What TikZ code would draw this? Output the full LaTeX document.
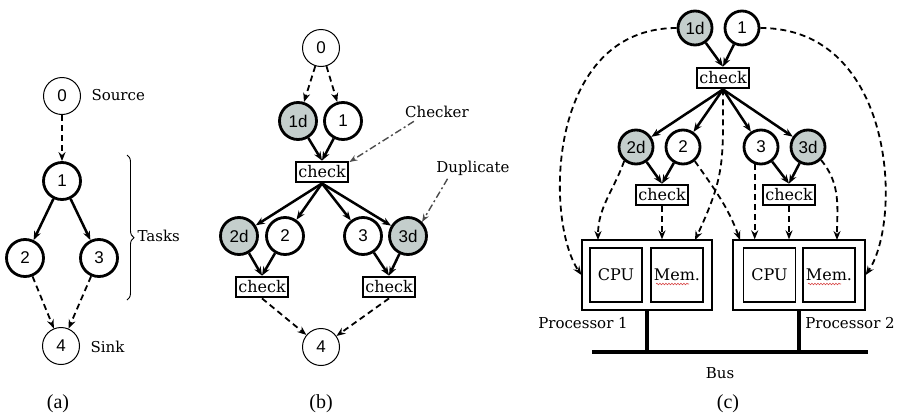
\documentclass[tikz,border=0pt]{standalone}
\usepackage{fontspec}
\setmainfont{DejaVu Serif}
\newfontfamily\numfont{Liberation Sans}
\newfontfamily\capfont{Liberation Serif}
\usetikzlibrary{arrows.meta,decorations.pathreplacing,decorations.pathmorphing}

\definecolor{dupgray}{RGB}{196,206,204}
\definecolor{spellred}{RGB}{215,70,70}

\tikzset{
	task/.style={circle, draw, line width=2.8pt, minimum size=37pt, inner sep=0pt, font=\numfont\fontsize{17}{17}\selectfont},
	endtask/.style={task, line width=1pt},
	duptask/.style={task, fill=dupgray},
	ctask/.style={minimum size=34pt},
	checker/.style={draw, line width=2.8pt, minimum width=52pt, minimum height=20pt, inner sep=0pt, font=\fontsize{16}{16}\selectfont},
	hwbox/.style={draw, line width=1.3pt, minimum width=52pt, minimum height=54pt, inner sep=0pt, font=\fontsize{16}{16}\selectfont},
	lbl/.style={font=\fontsize{15}{15}\selectfont},
	figcap/.style={font=\capfont\fontsize{20}{20}\selectfont},
	flow/.style={-{Stealth[length=9pt,width=7pt]}, line width=2.5pt},
	msg/.style={-{Stealth[length=9pt,width=7pt]}, line width=1.8pt, dash pattern=on 6pt off 4pt},
	pointer/.style={-{Stealth[length=8pt,width=6pt]}, line width=1.4pt, gray!60!black, dash pattern=on 7pt off 3pt on 2pt off 3pt},
}

\begin{document}
\begin{tikzpicture}[x=1pt, y=1pt]
	\useasboundingbox (0,0) rectangle (899,-418);

	% (a) task graph
	\node[endtask] (a0) at (62, -96) {0};
	\node[task] (a1) at (62, -181) {1};
	\node[task] (a2) at (25, -258) {2};
	\node[task] (a3) at (99, -258) {3};
	\node[endtask] (a4) at (61, -346) {4};
	\node[lbl, anchor=west] (src) at (88, -95) {Source};
	\node[lbl, anchor=west] (snk) at (87, -347) {Sink};
	\node[lbl, anchor=west] (tsk) at (134, -236) {Tasks};
	\draw[msg] (a0) -- (a1);
	\draw[flow] (a1) -- (a2);
	\draw[flow] (a1) -- (a3);
	\draw[msg] (a2) -- (a4);
	\draw[msg] (a3) -- (a4);
	\draw[line width=0.9pt, decorate, decoration={brace, amplitude=7pt, aspect=0.57}] (127, -155) -- (127, -300);

	% (b) with duplicates and checkers
	\node[endtask] (b0) at (321, -48) {0};
	\node[duptask] (b1d) at (298, -121) {1d};
	\node[task] (b1) at (343, -121) {1};
	\node[checker] (bc1) at (322, -172) {check};
	\node[duptask] (b2d) at (239, -236) {2d};
	\node[task] (b2) at (285, -236) {2};
	\node[task] (b3) at (363, -236) {3};
	\node[duptask] (b3d) at (408, -236) {3d};
	\node[checker] (bc2) at (262, -287) {check};
	\node[checker] (bc3) at (389, -287) {check};
	\node[endtask] (b4) at (321, -347) {4};
	\draw[msg] (b0) -- (b1d);
	\draw[msg] (b0) -- (b1);
	\draw[flow] (b1d) -- (bc1.north);
	\draw[flow] (b1) -- (bc1.north);
	\foreach \t in {b2d, b2, b3, b3d}
		\draw[flow] (bc1.south) -- (\t);
	\draw[flow] (b2d) -- (bc2.north);
	\draw[flow] (b2) -- (bc2.north);
	\draw[flow] (b3) -- (bc3.north);
	\draw[flow] (b3d) -- (bc3.north);
	\draw[msg] (bc2.south) -- (b4);
	\draw[msg] (bc3.south) -- (b4);
	\node[lbl] (chklbl) at (437, -112) {Checker};
	\node[lbl] (duplbl) at (473, -168) {Duplicate};
	\draw[pointer] (chklbl.-158) -- (bc1.20);
	\draw[pointer] (duplbl.-157) -- (b3d.45);

	% (c) mapping onto two processors
	\node[duptask, ctask] (c1d) at (695, -28) {1d};
	\node[task, ctask] (c1) at (742, -28) {1};
	\node[checker] (cc1) at (723, -78) {check};
	\node[duptask, ctask] (c2d) at (636, -147) {2d};
	\node[task, ctask] (c2) at (683, -147) {2};
	\node[task, ctask] (c3) at (761, -147) {3};
	\node[duptask, ctask] (c3d) at (808, -147) {3d};
	\node[checker] (cc2) at (662, -195) {check};
	\node[checker] (cc3) at (789, -195) {check};

	\node[draw, line width=1.3pt, minimum width=130pt, minimum height=70pt] (p1) at (647, -275) {};
	\node[hwbox] (cpu1) at (616, -275) {CPU};
	\node[hwbox] (mem1) at (677, -275) {Mem.};
	\node[draw, line width=1.3pt, minimum width=132pt, minimum height=70pt] (p2) at (799, -275) {};
	\node[hwbox] (cpu2) at (769.5, -275) {CPU};
	\node[hwbox] (mem2) at (829, -275) {Mem.};
	\draw[spellred, line width=0.6pt, decorate, decoration={snake, amplitude=0.8pt, segment length=3pt}] ([xshift=-21pt, yshift=-9pt]mem1.center) -- ([xshift=12pt, yshift=-9pt]mem1.center);
	\draw[spellred, line width=0.6pt, decorate, decoration={snake, amplitude=0.8pt, segment length=3pt}] ([xshift=-21pt, yshift=-9pt]mem2.center) -- ([xshift=12pt, yshift=-9pt]mem2.center);
	\node[lbl] (pl1) at (583, -323) {Processor 1};
	\node[lbl] (pl2) at (850, -323) {Processor 2};

	\coordinate (busL) at (592, -352);
	\coordinate (busR) at (868, -352);
	\draw[line width=4pt] (busL) -- (busR);
	\draw[line width=4pt] (p1.south) -- (p1.south |- busL);
	\draw[line width=4pt] (p2.south) -- (p2.south |- busL);
	\node[lbl] (bus) at (720, -373) {Bus};

	\draw[flow] (c1d) -- (cc1.north);
	\draw[flow] (c1) -- (cc1.north);
	\foreach \t in {c2d, c2, c3, c3d}
		\draw[flow] (cc1.south) -- (\t);
	\draw[flow] (c2d) -- (cc2.north);
	\draw[flow] (c2) -- (cc2.north);
	\draw[flow] (c3) -- (cc3.north);
	\draw[flow] (c3d) -- (cc3.north);

	% messages into the processors
	\coordinate (in1a) at (598, -240);
	\coordinate (in1c) at (695, -240);
	\coordinate (in2a) at (740, -240);
	\coordinate (in2d) at (837, -240);
	\draw[msg] (c1d.west) to[out=180, in=124, out distance=130pt, in distance=66pt] (p1.west);
	\draw[msg] (c1.east) to[out=0, in=56, out distance=135pt, in distance=66pt] (p2.east);
	\draw[msg] (c2d.-130) to[out=-110, in=90] (in1a);
	\draw[msg] (cc2.south) -- (cc2.south |- p1.north);
	\draw[msg] (cc1.south) to[out=-90, in=65, looseness=1.2] (in1c);
	\draw[msg] (c2.-50) to[out=-55, in=110] (in2a);
	\draw[msg] (c3.-110) -- (c3.-110 |- p2.north);
	\draw[msg] (cc3.south) -- (cc3.south |- p2.north);
	\draw[msg] (c3d.-45) to[out=-50, in=90] (in2d);

	% captions
	\node[figcap] (capa) at (58, -404) {(a)};
	\node[figcap] (capb) at (321, -404) {(b)};
	\node[figcap] (capc) at (728, -404) {(c)};
\end{tikzpicture}
\end{document}
